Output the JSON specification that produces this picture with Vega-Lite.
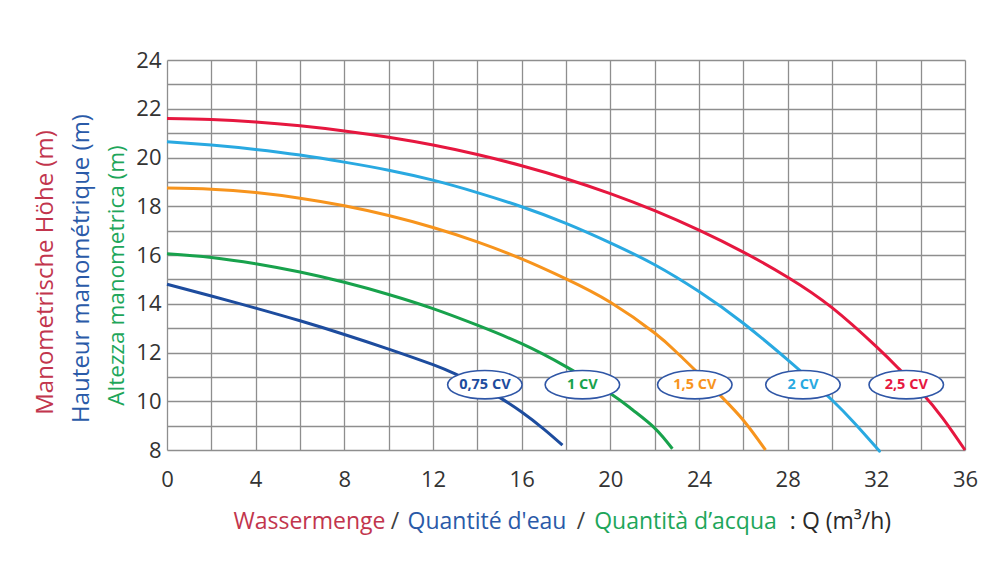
{
  "$schema": "https://vega.github.io/schema/vega-lite/v6.json",
  "width": 798,
  "height": 390,
  "autosize": {"type": "none"},
  "padding": {"left": 167, "top": 60, "right": 28, "bottom": 112},
  "background": "#ffffff",
  "config": {
    "view": {"stroke": null},
    "font": "Open Sans",
    "axis": {"domain": false, "ticks": false, "tickSize": 0, "grid": false, "labels": false, "titleFont": "Open Sans", "titleFontWeight": "normal"}
  },
  "datasets": {
    "curves": [
      {"s": "0,75 CV", "Q": 0, "H": 14.8}, {"s": "0,75 CV", "Q": 2, "H": 14.32}, {"s": "0,75 CV", "Q": 4, "H": 13.82}, {"s": "0,75 CV", "Q": 6, "H": 13.3}, {"s": "0,75 CV", "Q": 8, "H": 12.74}, {"s": "0,75 CV", "Q": 10, "H": 12.14}, {"s": "0,75 CV", "Q": 12, "H": 11.5}, {"s": "0,75 CV", "Q": 13, "H": 11.12}, {"s": "0,75 CV", "Q": 14, "H": 10.68}, {"s": "0,75 CV", "Q": 15, "H": 10.16}, {"s": "0,75 CV", "Q": 16, "H": 9.56}, {"s": "0,75 CV", "Q": 17, "H": 8.86}, {"s": "0,75 CV", "Q": 17.84, "H": 8.2},
      {"s": "1 CV", "Q": 0, "H": 16.05}, {"s": "1 CV", "Q": 2, "H": 15.9}, {"s": "1 CV", "Q": 4, "H": 15.64}, {"s": "1 CV", "Q": 6, "H": 15.3}, {"s": "1 CV", "Q": 8, "H": 14.88}, {"s": "1 CV", "Q": 10, "H": 14.38}, {"s": "1 CV", "Q": 12, "H": 13.8}, {"s": "1 CV", "Q": 14, "H": 13.12}, {"s": "1 CV", "Q": 16, "H": 12.36}, {"s": "1 CV", "Q": 18, "H": 11.42}, {"s": "1 CV", "Q": 20, "H": 10.32}, {"s": "1 CV", "Q": 21, "H": 9.65}, {"s": "1 CV", "Q": 22, "H": 8.9}, {"s": "1 CV", "Q": 22.8, "H": 8.05},
      {"s": "1,5 CV", "Q": 0, "H": 18.75}, {"s": "1,5 CV", "Q": 2, "H": 18.7}, {"s": "1,5 CV", "Q": 4, "H": 18.56}, {"s": "1,5 CV", "Q": 6, "H": 18.33}, {"s": "1,5 CV", "Q": 8, "H": 18.02}, {"s": "1,5 CV", "Q": 10, "H": 17.62}, {"s": "1,5 CV", "Q": 12, "H": 17.13}, {"s": "1,5 CV", "Q": 14, "H": 16.54}, {"s": "1,5 CV", "Q": 16, "H": 15.84}, {"s": "1,5 CV", "Q": 18, "H": 15.02}, {"s": "1,5 CV", "Q": 20, "H": 14.06}, {"s": "1,5 CV", "Q": 22, "H": 12.8}, {"s": "1,5 CV", "Q": 23, "H": 12.0}, {"s": "1,5 CV", "Q": 24, "H": 11.12}, {"s": "1,5 CV", "Q": 25, "H": 10.2}, {"s": "1,5 CV", "Q": 26, "H": 9.22}, {"s": "1,5 CV", "Q": 27, "H": 8.0},
      {"s": "2 CV", "Q": 0, "H": 20.65}, {"s": "2 CV", "Q": 2, "H": 20.51}, {"s": "2 CV", "Q": 4, "H": 20.33}, {"s": "2 CV", "Q": 6, "H": 20.1}, {"s": "2 CV", "Q": 8, "H": 19.81}, {"s": "2 CV", "Q": 10, "H": 19.48}, {"s": "2 CV", "Q": 12, "H": 19.07}, {"s": "2 CV", "Q": 14, "H": 18.56}, {"s": "2 CV", "Q": 16, "H": 17.98}, {"s": "2 CV", "Q": 18, "H": 17.3}, {"s": "2 CV", "Q": 20, "H": 16.5}, {"s": "2 CV", "Q": 22, "H": 15.6}, {"s": "2 CV", "Q": 24, "H": 14.5}, {"s": "2 CV", "Q": 26, "H": 13.2}, {"s": "2 CV", "Q": 28, "H": 11.7}, {"s": "2 CV", "Q": 29, "H": 10.9}, {"s": "2 CV", "Q": 30, "H": 10.05}, {"s": "2 CV", "Q": 31, "H": 9.12}, {"s": "2 CV", "Q": 32, "H": 8.1}, {"s": "2 CV", "Q": 32.1, "H": 8.0},
      {"s": "2,5 CV", "Q": 0, "H": 21.6}, {"s": "2,5 CV", "Q": 2, "H": 21.56}, {"s": "2,5 CV", "Q": 4, "H": 21.46}, {"s": "2,5 CV", "Q": 6, "H": 21.3}, {"s": "2,5 CV", "Q": 8, "H": 21.09}, {"s": "2,5 CV", "Q": 10, "H": 20.83}, {"s": "2,5 CV", "Q": 12, "H": 20.51}, {"s": "2,5 CV", "Q": 14, "H": 20.12}, {"s": "2,5 CV", "Q": 16, "H": 19.66}, {"s": "2,5 CV", "Q": 18, "H": 19.13}, {"s": "2,5 CV", "Q": 20, "H": 18.52}, {"s": "2,5 CV", "Q": 22, "H": 17.82}, {"s": "2,5 CV", "Q": 24, "H": 17.02}, {"s": "2,5 CV", "Q": 26, "H": 16.12}, {"s": "2,5 CV", "Q": 28, "H": 15.09}, {"s": "2,5 CV", "Q": 30, "H": 13.84}, {"s": "2,5 CV", "Q": 32, "H": 12.24}, {"s": "2,5 CV", "Q": 33, "H": 11.35}, {"s": "2,5 CV", "Q": 34, "H": 10.4}, {"s": "2,5 CV", "Q": 35, "H": 9.3}, {"s": "2,5 CV", "Q": 36, "H": 8.0}
    ],
    "labels": [
      {"s": "0,75 CV", "Q": 14.34, "H": 10.68},
      {"s": "1 CV", "Q": 18.74, "H": 10.68},
      {"s": "1,5 CV", "Q": 23.81, "H": 10.68},
      {"s": "2 CV", "Q": 28.69, "H": 10.68},
      {"s": "2,5 CV", "Q": 33.35, "H": 10.68}
    ]
  },
  "resolve": {"axis": {"x": "independent", "y": "independent"}},
  "layer": [
    {
      "data": {"name": "curves"},
      "transform": [{"filter": "datum.s === '0,75 CV'"}],
      "mark": {"type": "line", "color": "#1d4c9e", "strokeWidth": 3, "interpolate": "natural"},
      "encoding": {
        "x": {"field": "Q", "type": "quantitative", "scale": {"domain": [0, 36], "nice": false, "zero": false},
          "axis": {"orient": "bottom", "grid": true, "gridColor": "#8e8e8e", "gridWidth": 1.3, "gridOpacity": 1,
            "values": [0, 2, 4, 6, 8, 10, 12, 14, 16, 18, 20, 22, 24, 26, 28, 30, 32, 34, 36],
            "labels": true, "labelExpr": "datum.value % 4 === 0 ? datum.label : ''", "labelFont": "Open Sans", "labelFontSize": 22, "labelColor": "#333333", "labelPadding": 19, "labelFlush": false, "labelOverlap": false,
            "title": "Wassermenge", "titleColor": "#c2354d", "titleFontSize": 23, "titleAngle": 0, "titleAlign": "center", "titleBaseline": "alphabetic", "titleX": 142, "titleY": 78}},
        "y": {"field": "H", "type": "quantitative", "scale": {"domain": [8, 24], "nice": false, "zero": false},
          "axis": {"orient": "left", "grid": true, "gridColor": "#8e8e8e", "gridWidth": 1.3, "gridOpacity": 1,
            "values": [8, 9, 10, 11, 12, 13, 14, 15, 16, 17, 18, 19, 20, 21, 22, 23, 24],
            "labels": true, "labelExpr": "datum.value % 2 === 0 ? datum.label : ''", "labelFont": "Open Sans", "labelFontSize": 22, "labelColor": "#333333", "labelPadding": 6, "labelFlush": false, "labelOverlap": false,
            "title": "Manometrische Höhe (m)", "titleColor": "#c2354d", "titleFontSize": 24, "titleAngle": 270, "titleAlign": "center", "titleBaseline": "middle", "titleX": -122, "titleY": 212}}
      }
    },
    {
      "data": {"name": "curves"},
      "transform": [{"filter": "datum.s === '1 CV'"}],
      "mark": {"type": "line", "color": "#18a24c", "strokeWidth": 3, "interpolate": "natural"},
      "encoding": {
        "x": {"field": "Q", "type": "quantitative", "axis": {"orient": "bottom", "title": "/", "titleColor": "#404040", "titleFontSize": 23, "titleAngle": 0, "titleAlign": "center", "titleBaseline": "alphabetic", "titleX": 227.5, "titleY": 78}},
        "y": {"field": "H", "type": "quantitative", "axis": {"orient": "left", "title": "Hauteur manométrique (m)", "titleColor": "#2a5aa8", "titleFontSize": 24, "titleAngle": 270, "titleAlign": "center", "titleBaseline": "middle", "titleX": -86, "titleY": 208}}
      }
    },
    {
      "data": {"name": "curves"},
      "transform": [{"filter": "datum.s === '1,5 CV'"}],
      "mark": {"type": "line", "color": "#f7941d", "strokeWidth": 3, "interpolate": "natural"},
      "encoding": {
        "x": {"field": "Q", "type": "quantitative", "axis": {"orient": "bottom", "title": "Quantité d'eau", "titleColor": "#2a5aa8", "titleFontSize": 23, "titleAngle": 0, "titleAlign": "center", "titleBaseline": "alphabetic", "titleX": 319.5, "titleY": 78}},
        "y": {"field": "H", "type": "quantitative", "axis": {"orient": "left", "title": "Altezza manometrica (m)", "titleColor": "#1ea65a", "titleFontSize": 22.5, "titleAngle": 270, "titleAlign": "center", "titleBaseline": "middle", "titleX": -51, "titleY": 215}}
      }
    },
    {
      "data": {"name": "curves"},
      "transform": [{"filter": "datum.s === '2 CV'"}],
      "mark": {"type": "line", "color": "#29a9e1", "strokeWidth": 3, "interpolate": "natural"},
      "encoding": {
        "x": {"field": "Q", "type": "quantitative", "axis": {"orient": "bottom", "title": "/", "titleColor": "#404040", "titleFontSize": 23, "titleAngle": 0, "titleAlign": "center", "titleBaseline": "alphabetic", "titleX": 413.5, "titleY": 78}},
        "y": {"field": "H", "type": "quantitative", "axis": null}
      }
    },
    {
      "data": {"name": "curves"},
      "transform": [{"filter": "datum.s === '2,5 CV'"}],
      "mark": {"type": "line", "color": "#e6173f", "strokeWidth": 3, "interpolate": "natural"},
      "encoding": {
        "x": {"field": "Q", "type": "quantitative", "axis": {"orient": "bottom", "title": "Quantità d’acqua", "titleColor": "#1ea65a", "titleFontSize": 23, "titleAngle": 0, "titleAlign": "center", "titleBaseline": "alphabetic", "titleX": 518, "titleY": 78}},
        "y": {"field": "H", "type": "quantitative", "axis": null}
      }
    },
    {
      "data": {"name": "labels"},
      "mark": {"type": "point", "shape": "M-1,0A1,0.38 0 1,1 1,0A1,0.38 0 1,1 -1,0Z", "size": 5550, "filled": true, "fill": "#ffffff", "stroke": "#2f56a6", "strokeWidth": 1.6, "opacity": 1, "fillOpacity": 1, "strokeOpacity": 1},
      "encoding": {
        "x": {"field": "Q", "type": "quantitative", "axis": {"orient": "bottom", "title": ": Q (m³/h)", "titleColor": "#2a2a2a", "titleFontSize": 23, "titleAngle": 0, "titleAlign": "center", "titleBaseline": "alphabetic", "titleX": 673, "titleY": 78}},
        "y": {"field": "H", "type": "quantitative", "axis": null}
      }
    },
    {
      "data": {"name": "labels"},
      "mark": {"type": "text", "font": "Open Sans", "fontWeight": "bold", "fontSize": 14.5, "align": "center", "baseline": "middle"},
      "encoding": {
        "x": {"field": "Q", "type": "quantitative", "axis": null},
        "y": {"field": "H", "type": "quantitative", "axis": null},
        "text": {"field": "s"},
        "color": {"field": "s", "type": "nominal", "legend": null,
          "scale": {"domain": ["0,75 CV", "1 CV", "1,5 CV", "2 CV", "2,5 CV"], "range": ["#1d4c9e", "#18a24c", "#f7941d", "#29a9e1", "#e6173f"]}}
      }
    }
  ]
}
